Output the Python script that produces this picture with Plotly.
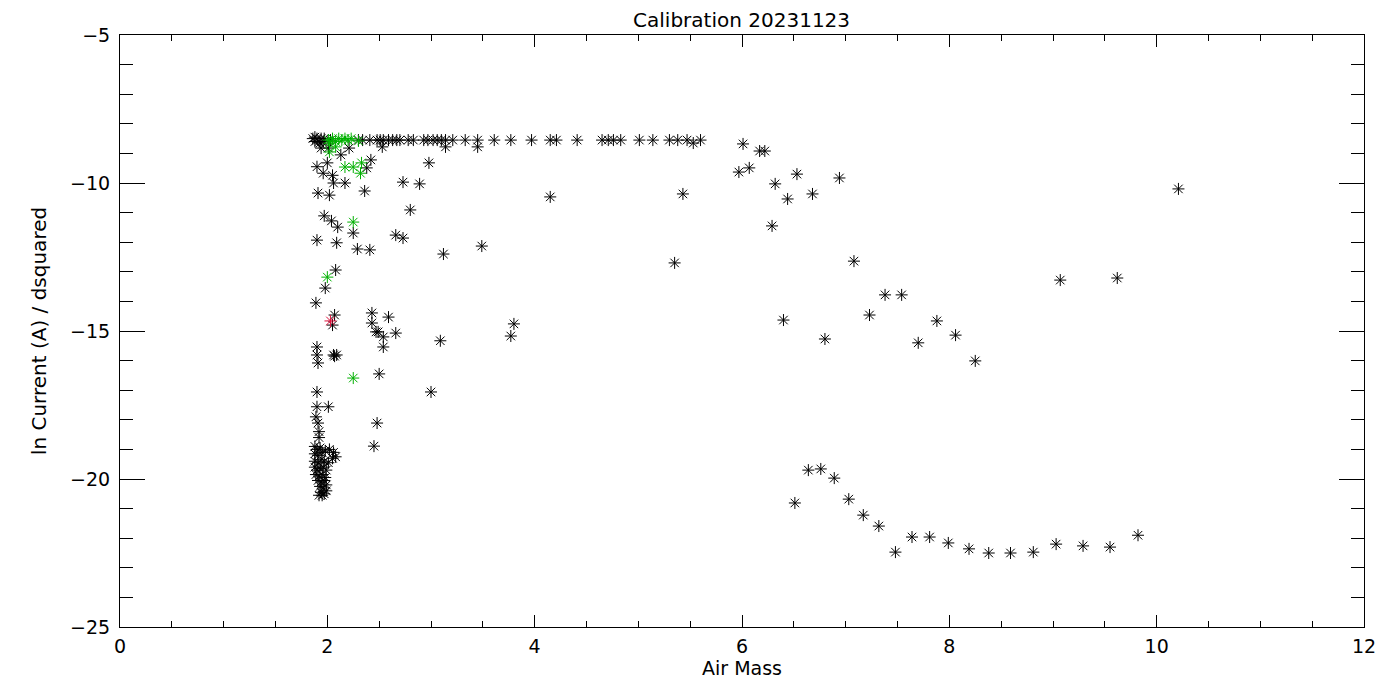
import plotly.graph_objects as go

# ---- data ----
black_x = [1.86, 1.88, 1.90, 1.92, 1.94, 1.96, 1.88, 1.93, 1.97, 2.03,
           1.94, 2.01, 2.21, 2.13,
           2.30, 2.34, 2.41, 2.48, 2.51, 2.54, 2.59, 2.63, 2.67, 2.70, 2.78, 2.83, 2.93, 2.97, 3.02, 3.06,
           3.10, 3.14, 3.21, 3.33, 3.45, 3.61, 3.77, 3.97, 4.15, 4.21, 4.41, 4.65, 4.71, 4.76, 4.83,
           5.01, 5.14, 5.30, 5.38, 5.47, 5.53, 5.60,
           2.53, 3.14, 3.45,
           6.01, 6.17, 6.22, 5.97, 6.07, 6.32, 6.53, 6.44, 6.29, 6.94, 6.68, 4.15, 5.43, 5.35, 7.08,
           7.38, 7.54, 7.23, 6.40, 7.88, 8.06, 6.80, 7.70, 8.25, 9.07, 9.62, 10.21,
           6.51, 6.64, 6.76, 6.89, 7.03, 7.17, 7.32, 7.48, 7.64, 7.81, 7.99, 8.19, 8.38, 8.59, 8.81,
           9.03, 9.29, 9.55, 9.82,
           1.90, 2.00, 2.42, 2.38, 2.98, 1.96, 2.05, 2.06, 2.17, 2.73, 2.89, 1.91, 2.02, 2.36, 2.80,
           1.97, 2.04, 2.10, 2.25, 1.90, 2.09, 2.29, 2.41, 2.66, 2.73, 3.12, 3.49, 2.08, 1.98, 1.89,
           2.07, 2.43, 2.59, 2.05, 2.43, 2.47, 2.49, 2.54, 2.66, 2.54, 3.09, 3.77, 3.80, 1.90, 1.90,
           1.91, 2.06, 2.09, 2.07, 2.50, 3.00, 1.90, 1.90, 2.01, 1.89, 1.91, 2.48, 1.92, 1.92, 2.45,
           1.88, 1.90, 1.93, 1.88, 1.91, 1.95, 1.98, 2.02, 2.06, 2.05, 2.08, 1.88, 1.91, 1.94, 1.97,
           2.01, 1.88, 1.90, 1.93, 1.96, 1.99, 1.89, 1.92, 1.95, 1.98, 1.91, 1.94, 1.97, 1.93, 1.96,
           1.99, 1.94, 1.97, 1.95, 1.99, 1.92]
black_y = [-8.50, -8.60, -8.50, -8.60, -8.50, -8.60, -8.45, -8.65, -8.50, -8.55,
           -8.82, -8.82, -8.82, -9.05,
           -8.55, -8.55, -8.55, -8.55, -8.55, -8.55, -8.55, -8.55, -8.55, -8.55, -8.55, -8.55, -8.55, -8.55, -8.55, -8.55,
           -8.55, -8.55, -8.55, -8.55, -8.55, -8.55, -8.55, -8.55, -8.55, -8.55, -8.55, -8.55, -8.55, -8.55, -8.55,
           -8.55, -8.55, -8.55, -8.55, -8.55, -8.65, -8.55,
           -8.78, -8.78, -8.78,
           -8.68, -8.92, -8.92, -9.63, -9.49, -10.03, -9.70, -10.54, -11.45, -9.83, -10.37, -10.47, -10.37, -12.70, -12.64,
           -13.78, -13.78, -14.46, -14.63, -14.66, -15.14, -15.27, -15.40, -16.01, -13.28, -13.21, -10.20,
           -20.81, -19.70, -19.66, -19.97, -20.68, -21.22, -21.59, -22.47, -21.96, -21.96, -22.16, -22.36, -22.50, -22.50, -22.47,
           -22.20, -22.26, -22.30, -21.90,
           -9.45, -9.32, -9.22, -9.49, -9.32, -9.67, -9.74, -10.00, -10.00, -9.97, -10.03, -10.34, -10.41, -10.27, -10.91,
           -11.11, -11.28, -11.49, -11.69, -11.93, -12.02, -12.23, -12.26, -11.76, -11.86, -12.40, -12.13, -12.94, -13.55, -14.05,
           -14.46, -14.39, -14.53, -14.80, -14.73, -15.03, -15.03, -15.20, -15.07, -15.54, -15.33, -15.17, -14.76, -15.54, -15.81,
           -16.08, -15.81, -15.81, -15.85, -16.45, -17.06, -17.06, -17.56, -17.56, -17.90, -18.11, -18.11, -18.40, -18.60, -18.89,
           -18.90, -19.00, -18.95, -19.15, -19.20, -19.10, -19.05, -19.00, -19.10, -19.30, -19.25, -19.40, -19.45, -19.35, -19.40,
           -19.45, -19.60, -19.70, -19.65, -19.60, -19.70, -19.85, -19.90, -19.85, -19.95, -20.05, -20.10, -20.05, -20.25, -20.30,
           -20.20, -20.45, -20.50, -20.55, -20.40, -20.55]

green_x = [2.01, 2.05, 2.08, 2.11, 2.14, 2.17, 2.20, 2.23, 2.02, 2.02, 2.08, 2.30,
           2.17, 2.25, 2.33, 2.32, 2.25, 2.00, 2.25]
green_y = [-8.55, -8.50, -8.60, -8.50, -8.55, -8.50, -8.55, -8.50, -8.65, -8.95, -8.78, -8.58,
           -9.46, -9.46, -9.32, -9.67, -11.32, -13.18, -16.59]

red_x = [2.03]
red_y = [-14.66]

title_text = "Calibration 20231123"
x_title = "Air Mass"
y_title = "ln Current (A) / dsquared"

FONT = "DejaVu Sans"

fig = go.Figure()


def add_series(xs, ys, color):
    fig.add_trace(go.Scatter(
        x=xs, y=ys, mode="markers", showlegend=False, hoverinfo="skip",
        marker=dict(symbol="asterisk-open", size=10, color=color,
                    line=dict(color=color, width=1)),
    ))


add_series(black_x, black_y, "black")
add_series(green_x, green_y, "#00b000")
add_series(red_x, red_y, "#e0103c")

axis_common = dict(
    showgrid=False, zeroline=False, showline=True, linecolor="black", linewidth=1,
    mirror="allticks", ticks="inside", tickcolor="black", tickwidth=1,
    tickfont=dict(family=FONT, size=19, color="black"),
)

fig.update_xaxes(
    range=[0, 12], tick0=0, dtick=2, ticklen=12,
    minor=dict(dtick=0.5, ticks="inside", ticklen=6, tickcolor="black", tickwidth=1),
    ticklabelstandoff=2,
    title=dict(text=x_title, font=dict(family=FONT, size=19, color="black"), standoff=4),
    **axis_common,
)
fig.update_yaxes(
    range=[-25, -5], tick0=-25, dtick=5, ticklen=25,
    minor=dict(dtick=1, ticks="inside", ticklen=13, tickcolor="black", tickwidth=1),
    ticklabelstandoff=5,
    title=dict(text=y_title, font=dict(family=FONT, size=20, color="black"), standoff=18),
    **axis_common,
)

fig.update_layout(
    width=1400, height=700,
    margin=dict(l=112, r=44, t=27, b=81),
    paper_bgcolor="white", plot_bgcolor="white",
    title=dict(text=title_text, x=0.524, xanchor="center", y=0.983, yanchor="middle",
               font=dict(family=FONT, size=20, color="black")),
)

fig.write_html("out.html")
